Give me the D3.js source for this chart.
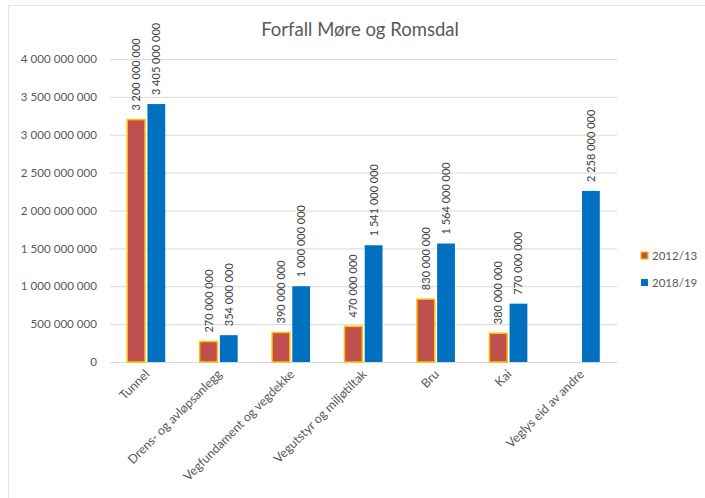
<!DOCTYPE html>
<html>
<head>
<meta charset="utf-8">
<script src="https://cdn.jsdelivr.net/npm/d3@7"></script>
<style>
  body { margin: 0; background: #fff; }
  text { font-family: Lato, "Open Sans", sans-serif; }
</style>
</head>
<body>
<script>
// Data
const categorias = ["Tunnel", "Drens- og avløpsanlegg", "Vegfundament og vegdekke",
  "Vegutstyr og miljøtiltak", "Bru", "Kai", "Veglys eid av andre"];
const serier = ["2012/13", "2018/19"];
const verdier2012 = [3200000000, 270000000, 390000000, 470000000, 830000000, 380000000, null];
const verdier2018 = [3405000000, 354000000, 1000000000, 1541000000, 1564000000, 770000000, 2258000000];
const yTicks = [0, 500000000, 1000000000, 1500000000, 2000000000, 2500000000, 3000000000, 3500000000, 4000000000];

const WIDTH = 705;
const HEIGHT = 498;
const MARGIN = { top: 59, bottom: 136, left: 110, right: 88 };
const HEIGHTVIS = HEIGHT - MARGIN.top - MARGIN.bottom;
const WIDTHVIS = WIDTH - MARGIN.left - MARGIN.right;

const farger = { "2012/13": "#C0504D", "2018/19": "#0070C0" };
const kant = { "2012/13": "#FFC000", "2018/19": "none" };

const svg = d3.select("body").append("svg")
  .attr("width", WIDTH)
  .attr("height", HEIGHT);

// chart frame (left and top edges visible)
svg.append("line").attr("x1", 8.5).attr("x2", 8.5).attr("y1", 5).attr("y2", HEIGHT)
  .attr("stroke", "#e6e6e6");
svg.append("line").attr("x1", 8).attr("x2", WIDTH).attr("y1", 5.5).attr("y2", 5.5)
  .attr("stroke", "#e6e6e6");

const fmt = (v) => d3.format(",")(v).replace(/,/g, " ");

const escalaX = d3.scaleBand().domain(categorias).range([0, WIDTHVIS]);
const escalaSerie = d3.scaleBand().domain(serier).range([escalaX.bandwidth() / 2 - 19, escalaX.bandwidth() / 2 + 19]).paddingInner(0.12);
const escalaY = d3.scaleLinear().domain([0, 4000000000]).range([HEIGHTVIS, 0]);

const vis = svg.append("g").attr("transform", `translate(${MARGIN.left}, ${MARGIN.top})`);

// title
svg.append("text")
  .attr("x", 360).attr("y", 36)
  .attr("text-anchor", "middle")
  .attr("font-size", 18.5)
  .attr("fill", "#595959")
  .text("Forfall Møre og Romsdal");

// Y axis with gridlines
const ejeY = d3.axisLeft(escalaY).tickValues(yTicks).tickFormat(fmt).tickSize(0).tickPadding(13);
const gY = vis.append("g").call(ejeY);
gY.select(".domain").remove();
gY.selectAll("text").attr("font-size", 11.6).attr("fill", "#595959");
gY.selectAll(".tick line").attr("x2", WIDTHVIS).attr("stroke", "#d9d9d9");

// X axis
const ejeX = d3.axisBottom(escalaX).tickSize(0).tickPadding(0);
const gX = vis.append("g").attr("transform", `translate(0, ${HEIGHTVIS})`).call(ejeX);
gX.select(".domain").attr("stroke", "#d9d9d9");
gX.selectAll("text")
  .attr("font-size", 12.4)
  .attr("fill", "#595959")
  .attr("text-anchor", "end")
  .attr("dy", 0)
  .attr("y", 0)
  .attr("transform", "translate(4, 13) rotate(-45)");

// bars
const rader = [];
categorias.forEach((c, i) => {
  rader.push({ categoria: c, serie: "2012/13", verdi: verdier2012[i] });
  rader.push({ categoria: c, serie: "2018/19", verdi: verdier2018[i] });
});
const data = rader.filter((d) => d.verdi != null);

vis.selectAll("rect.bar")
  .data(data)
  .join("rect")
  .attr("class", "bar")
  .attr("x", (d) => escalaX(d.categoria) + escalaSerie(d.serie))
  .attr("width", escalaSerie.bandwidth())
  .attr("y", (d) => escalaY(d.verdi))
  .attr("height", (d) => HEIGHTVIS - escalaY(d.verdi))
  .attr("fill", (d) => farger[d.serie])
  .attr("stroke", (d) => kant[d.serie])
  .attr("stroke-width", 1.5);

// data labels
vis.selectAll("text.lbl")
  .data(data)
  .join("text")
  .attr("class", "lbl")
  .attr("transform", (d) => `translate(${escalaX(d.categoria) + escalaSerie(d.serie) + escalaSerie.bandwidth() / 2 + 4}, ${escalaY(d.verdi) - 9}) rotate(-90)`)
  .attr("font-size", 11)
  .attr("fill", "#404040")
  .text((d) => fmt(d.verdi));

// legend
const legend = svg.append("g").attr("transform", "translate(641, 252)");
serier.forEach((s, i) => {
  const g = legend.append("g").attr("transform", `translate(0, ${i * 27})`);
  g.append("rect").attr("width", 7).attr("height", 7)
    .attr("fill", farger[s]).attr("stroke", kant[s]).attr("stroke-width", 1.2);
  g.append("text").attr("x", 11).attr("y", 8).attr("font-size", 11.5).attr("fill", "#595959").text(s);
});
</script>
</body>
</html>
